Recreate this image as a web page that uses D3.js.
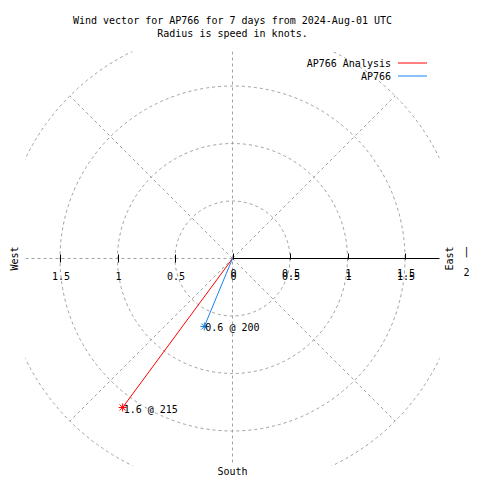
<!DOCTYPE html>
<html><head><meta charset="utf-8">
<script src="https://cdn.jsdelivr.net/npm/d3@7"></script>
<style>
html,body{margin:0;padding:0;background:#fff;}
text{font-family:"DejaVu Sans Mono",monospace;font-size:10px;fill:#000;}
</style></head>
<body>
<svg id="c" width="480" height="480"></svg>
<script>
// ---- data ----
const seriesNames = ["AP766 Analysis", "AP766"];
const seriesColors = ["#ff0000", "#1683f0"];
const speeds = [1.61, 0.64];          // knots (radius)
const directions = [216.4, 202.5];    // degrees, compass
const pointLabels = ["1.6 @ 215", "0.6 @ 200"];
const gridRadii = [0.5, 1, 1.5, 2];
const tickValues = [0, 0.5, 1, 1.5];
const gridAngles = [45, 135, 225, 315];
const titleLines = ["Wind vector for AP766 for 7 days from 2024-Aug-01 UTC", "Radius is speed in knots."];
const rMax = 1.8;

// ---- layout ----
const svg = d3.select("#c");
const cx = 232.5, cy = 258.5;
const r = d3.scaleLinear().domain([0, rMax]).range([0, 207]);
const R = r(rMax);
const xs = d3.scaleLinear().domain([-rMax, rMax]).range([cx - R, cx + R]);
const ys = d3.scaleLinear().domain([-rMax, rMax]).range([cy + R, cy - R]);

svg.append("defs").append("clipPath").attr("id", "box")
  .append("rect").attr("x", cx - R).attr("y", cy - R).attr("width", 2 * R).attr("height", 2 * R);

const grid = svg.append("g").attr("clip-path", "url(#box)")
  .attr("fill", "none").attr("stroke", "#a0a0a0").attr("stroke-width", 1).attr("stroke-dasharray", "3,3");

grid.selectAll("circle").data(gridRadii).join("circle")
  .attr("cx", cx).attr("cy", cy).attr("r", d => r(d));

const polar = (spd, deg) => {
  const a = deg * Math.PI / 180;
  return [xs(spd * Math.sin(a)), ys(spd * Math.cos(a))];
};
grid.selectAll("line.diag").data(gridAngles).join("line").attr("class", "diag")
  .attr("x1", cx).attr("y1", cy)
  .attr("x2", d => polar(2, d)[0]).attr("y2", d => polar(2, d)[1]);
// vertical grid line and left horizontal
grid.append("line").attr("x1", xs(0)).attr("x2", xs(0)).attr("y1", ys(rMax)).attr("y2", ys(-rMax));
grid.append("line").attr("x1", xs(-rMax)).attr("x2", xs(0)).attr("y1", ys(0)).attr("y2", ys(0));

// solid axis to the east
svg.append("line").attr("x1", xs(0)).attr("x2", xs(rMax)).attr("y1", ys(0)).attr("y2", ys(0))
  .attr("stroke", "#000").attr("stroke-width", 1);

// ticks
const ticks = svg.append("g").attr("stroke", "#000").attr("stroke-width", 1);
ticks.selectAll("line.tr").data(tickValues).join("line").attr("class", "tr")
  .attr("x1", d => Math.round(xs(d)) + 0.5).attr("x2", d => Math.round(xs(d)) + 0.5)
  .attr("y1", ys(0) - 5).attr("y2", ys(0) + 1);
ticks.selectAll("line.tl").data(tickValues.slice(1)).join("line").attr("class", "tl")
  .attr("x1", d => Math.round(xs(-d)) + 0.5).attr("x2", d => Math.round(xs(-d)) + 0.5)
  .attr("y1", ys(0) - 4).attr("y2", ys(0) + 4);

// tick labels (right side drawn twice, as in the reference)
const fmt = d => String(d);
const tl = svg.append("g").attr("text-anchor", "middle");
tl.selectAll("text.l").data(tickValues.slice(1)).join("text").attr("class", "l")
  .attr("x", d => xs(-d) + 1).attr("y", ys(0) + 21).text(fmt);
tl.selectAll("text.r1").data(tickValues).join("text").attr("class", "r1")
  .attr("x", d => xs(d) + 1).attr("y", ys(0) + 21).text(fmt);
tl.selectAll("text.r2").data(tickValues).join("text").attr("class", "r2")
  .attr("x", d => xs(d) + 1).attr("y", ys(0) + 18).text(fmt);

// compass labels
svg.append("text").attr("transform", `translate(${cx - R - 8},${cy}) rotate(-90)`)
  .attr("text-anchor", "middle").text("West");
svg.append("text").attr("transform", `translate(${cx + R + 13},${cy}) rotate(-90)`)
  .attr("text-anchor", "middle").text("East");
svg.append("text").attr("x", cx + R + 27).attr("y", cy - 4).attr("text-anchor", "middle").text("|");
svg.append("text").attr("x", cx + R + 27).attr("y", cy + 17).attr("text-anchor", "middle").text("2");
svg.append("text").attr("x", cx).attr("y", cy + R + 9.5).attr("text-anchor", "middle").text("South");

// title
svg.append("g").attr("text-anchor", "middle").selectAll("text").data(titleLines).join("text")
  .attr("x", cx).attr("y", (d, i) => 24 + i * 13).text(d => d);

// vectors
const star = {
  draw(ctx, size) {
    const s = Math.sqrt(size) / 2, d = s * 0.75;
    ctx.moveTo(-s, 0); ctx.lineTo(s, 0);
    ctx.moveTo(0, -s); ctx.lineTo(0, s);
    ctx.moveTo(-d, -d); ctx.lineTo(d, d);
    ctx.moveTo(-d, d); ctx.lineTo(d, -d);
  }
};
const vec = svg.append("g");
speeds.forEach((s, i) => {
  const [px, py] = polar(s, directions[i]);
  vec.append("line").attr("x1", xs(0)).attr("y1", ys(0)).attr("x2", px).attr("y2", py)
    .attr("stroke", seriesColors[i]).attr("stroke-width", 1);
  vec.append("path").attr("d", d3.symbol().type(star).size(64)())
    .attr("transform", `translate(${px},${py})`)
    .attr("fill", "none").attr("stroke", seriesColors[i]).attr("stroke-width", 1);
  vec.append("text").attr("x", px + 1).attr("y", py + 5).text(pointLabels[i]);
});

// legend
const lg = svg.append("g");
seriesNames.forEach((n, i) => {
  const y = 63 + i * 13;
  lg.append("text").attr("x", 391).attr("y", y + 4).attr("text-anchor", "end").text(n);
  lg.append("line").attr("x1", 398).attr("x2", 427).attr("y1", y).attr("y2", y)
    .attr("stroke", seriesColors[i]).attr("stroke-width", 1);
});
</script>
</body></html>
